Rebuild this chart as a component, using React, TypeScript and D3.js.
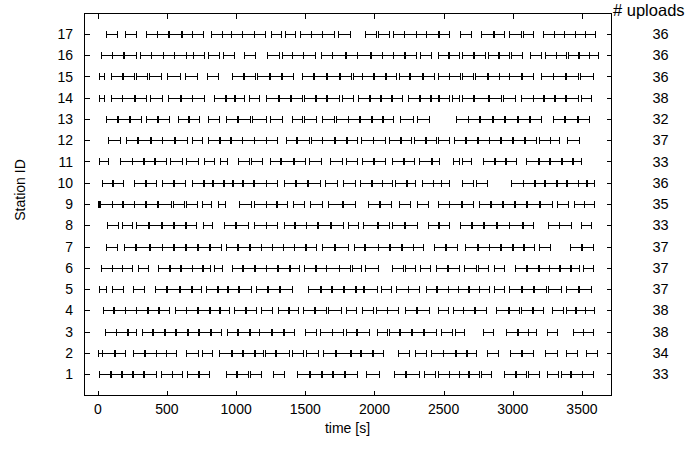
import React from "react";
import * as d3 from "d3";

// ---- data (seconds) ----
const station1 = [[12,85],[92,164],[172,249],[254,326],[333,418],[454,533],[538,611],[647,726],[731,804],[924,1001],[1009,1088],[1098,1178],[1267,1346],[1443,1527],[1532,1612],[1619,1696],[1701,1781],[1788,1877],[1938,2034],[2142,2222],[2227,2324],[2360,2439],[2456,2536],[2536,2613],[2613,2673],[2681,2758],[2770,2842],[2939,3018],[3023,3095],[3108,3192],[3245,3330],[3345,3413],[3419,3498],[3503,3582]];
const station2 = [[3,27],[32,116],[123,196],[254,333],[340,418],[422,490],[495,562],[640,726],[755,823],[876,960],[968,1045],[1050,1129],[1137,1195],[1205,1281],[1291,1383],[1402,1484],[1503,1595],[1629,1716],[1720,1822],[1829,1894],[1901,1981],[1986,2063],[2167,2251],[2295,2372],[2408,2492],[2497,2584],[2589,2661],[2666,2734],[2811,2890],[2980,3059],[3067,3144],[3236,3316],[3385,3462],[3530,3607]];
const station3 = [[51,128],[133,213],[220,278],[321,394],[398,478],[485,558],[562,647],[654,726],[731,808],[816,888],[936,1009],[1016,1093],[1098,1165],[1165,1250],[1257,1339],[1346,1420],[1498,1580],[1605,1691],[1696,1769],[1793,1870],[1877,1960],[2015,2094],[2102,2179],[2184,2263],[2270,2348],[2360,2444],[2480,2560],[2584,2650],[2787,2854],[2951,3028],[3035,3108],[3108,3168],[3245,3317],[3434,3510],[3510,3582]];
const station4 = [[36,109],[116,196],[200,273],[278,357],[365,437],[442,514],[558,635],[640,719],[726,804],[808,876],[881,948],[985,1064],[1069,1141],[1178,1257],[1305,1378],[1383,1450],[1484,1564],[1571,1648],[1667,1757],[1793,1865],[1909,1991],[2010,2087],[2094,2167],[2222,2299],[2311,2396],[2456,2529],[2565,2637],[2642,2722],[2729,2806],[2878,2963],[2970,3047],[3059,3139],[3148,3220],[3281,3366],[3385,3450],[3457,3523],[3523,3588]];
const station5 = [[7,61],[104,181],[254,333],[413,495],[502,586],[591,671],[678,743],[784,864],[871,936],[944,1016],[1021,1105],[1141,1226],[1233,1310],[1315,1402],[1523,1605],[1612,1684],[1691,1774],[1781,1860],[1865,1918],[1925,2015],[2046,2118],[2155,2239],[2246,2323],[2372,2444],[2449,2529],[2529,2601],[2601,2673],[2681,2753],[2758,2830],[2866,2939],[2975,3059],[3067,3149],[3156,3240],[3252,3349],[3385,3469],[3477,3566]];
const station6 = [[20,99],[104,176],[176,244],[292,365],[437,514],[519,591],[599,678],[683,755],[760,808],[840,895],[972,1045],[1050,1129],[1137,1214],[1214,1298],[1305,1383],[1387,1455],[1491,1571],[1576,1653],[1653,1740],[1744,1822],[1841,1901],[1933,2022],[2130,2203],[2222,2295],[2328,2401],[2444,2521],[2529,2608],[2649,2734],[2746,2818],[2866,2939],[3018,3095],[3100,3180],[3187,3260],[3264,3337],[3342,3414],[3421,3482],[3506,3578]];
const station7 = [[56,140],[188,268],[273,369],[374,461],[466,543],[550,630],[635,719],[726,804],[808,888],[924,1009],[1016,1093],[1098,1178],[1178,1257],[1257,1339],[1339,1419],[1419,1498],[1503,1580],[1624,1708],[1716,1805],[1853,1925],[1933,2022],[2029,2106],[2111,2191],[2198,2275],[2280,2352],[2432,2512],[2517,2594],[2656,2738],[2746,2825],[2830,2907],[2915,2994],[3004,3076],[3083,3156],[3192,3269],[3414,3494],[3501,3578]];
const station8 = [[68,147],[172,249],[278,365],[369,454],[461,543],[550,630],[635,707],[760,828],[912,992],[1001,1088],[1129,1214],[1214,1298],[1346,1419],[1426,1503],[1503,1588],[1595,1677],[1684,1773],[1805,1884],[1918,2015],[2022,2102],[2130,2215],[2222,2311],[2384,2456],[2463,2536],[2620,2698],[2705,2787],[2794,2878],[2883,2970],[2975,3067],[3071,3149],[3252,3332],[3337,3421],[3494,3566]];
const station9 = [[0,12],[16,99],[104,176],[181,261],[261,340],[345,430],[437,526],[543,623],[635,719],[751,816],[871,919],[1021,1105],[1129,1214],[1214,1291],[1298,1371],[1412,1491],[1535,1619],[1665,1764],[1773,1860],[1950,2034],[2039,2118],[2174,2256],[2311,2384],[2456,2536],[2541,2625],[2632,2710],[2753,2835],[2842,2922],[2931,3011],[3018,3095],[3100,3192],[3197,3284],[3317,3397],[3445,3518],[3518,3590]];
const station10 = [[27,104],[109,181],[261,340],[345,422],[461,543],[550,630],[683,760],[767,828],[833,905],[912,972],[977,1045],[1050,1122],[1129,1214],[1219,1298],[1346,1426],[1431,1515],[1523,1605],[1643,1732],[1773,1858],[1894,1974],[1981,2053],[2058,2126],[2150,2227],[2232,2295],[2343,2420],[2420,2480],[2480,2536],[2632,2710],[2734,2811],[2987,3071],[3076,3156],[3163,3228],[3235,3313],[3317,3385],[3390,3469],[3469,3530],[3535,3590]];
const station11 = [[12,75],[157,244],[249,326],[333,406],[413,490],[519,611],[640,726],[767,840],[881,936],[1016,1093],[1105,1190],[1243,1315],[1322,1412],[1419,1498],[1527,1612],[1677,1764],[1793,1877],[1909,1991],[1998,2077],[2126,2203],[2215,2287],[2323,2408],[2415,2468],[2565,2613],[2632,2698],[2787,2866],[2874,2946],[2951,3023],[3095,3180],[3187,3264],[3269,3349],[3356,3428],[3433,3494]];
const station12 = [[75,157],[205,285],[292,374],[381,461],[466,550],[558,647],[678,755],[799,876],[881,953],[960,1040],[1045,1129],[1129,1214],[1214,1298],[1358,1436],[1443,1527],[1539,1619],[1624,1708],[1716,1793],[1798,1877],[1901,1986],[1991,2077],[2102,2184],[2191,2263],[2287,2367],[2372,2444],[2456,2536],[2577,2656],[2661,2739],[2746,2825],[2830,2907],[2915,2994],[3004,3084],[3091,3168],[3192,3269],[3269,3332],[3390,3482]];
const station13 = [[61,140],[147,225],[229,309],[345,430],[437,514],[579,654],[659,731],[799,876],[929,1009],[1016,1098],[1117,1214],[1243,1330],[1402,1479],[1491,1576],[1624,1708],[1720,1805],[1812,1889],[1894,1974],[1981,2058],[2063,2135],[2184,2275],[2311,2391],[2589,2673],[2673,2758],[2763,2849],[2854,2939],[2946,3028],[3035,3120],[3124,3204],[3289,3373],[3380,3462],[3469,3554]];
const station14 = [[7,44],[92,172],[176,261],[268,345],[374,461],[509,591],[599,678],[683,767],[840,919],[924,985],[992,1057],[1093,1165],[1219,1305],[1310,1387],[1395,1479],[1491,1571],[1576,1653],[1660,1740],[1764,1846],[1884,1957],[1966,2039],[2046,2118],[2126,2198],[2239,2324],[2328,2401],[2408,2456],[2463,2536],[2560,2613],[2632,2710],[2722,2818],[2825,2915],[2927,3018],[3059,3144],[3144,3216],[3228,3301],[3308,3380],[3385,3469],[3494,3566]];
const station15 = [[7,46],[92,172],[181,261],[273,352],[369,454],[502,594],[630,719],[792,871],[972,1050],[1057,1137],[1153,1238],[1243,1322],[1330,1412],[1474,1556],[1564,1648],[1655,1745],[1749,1829],[1846,1909],[1913,1991],[1998,2077],[2082,2155],[2174,2251],[2256,2343],[2348,2432],[2456,2536],[2541,2618],[2632,2710],[2729,2811],[2818,2898],[2898,2970],[2975,3059],[3067,3144],[3204,3289],[3293,3380],[3385,3469],[3486,3578]];
const station16 = [[20,99],[104,181],[188,273],[302,381],[381,471],[471,550],[550,635],[635,688],[688,767],[796,876],[907,985],[1057,1137],[1226,1310],[1330,1407],[1407,1484],[1484,1571],[1612,1691],[1696,1788],[1793,1877],[1877,1969],[1974,2053],[2058,2131],[2135,2215],[2222,2299],[2328,2408],[2456,2529],[2536,2613],[2632,2710],[2722,2801],[2818,2890],[2898,2975],[2987,3067],[3124,3204],[3233,3313],[3313,3385],[3397,3469],[3482,3554],[3554,3614]];
const station17 = [[56,140],[193,273],[345,425],[425,507],[514,599],[611,683],[683,760],[816,895],[895,965],[965,1045],[1045,1129],[1129,1207],[1250,1322],[1351,1426],[1462,1544],[1544,1624],[1624,1708],[1737,1821],[1930,2014],[2029,2106],[2135,2215],[2215,2299],[2299,2376],[2376,2456],[2468,2536],[2620,2697],[2770,2854],[2866,2939],[2975,3059],[3071,3144],[3221,3296],[3296,3373],[3373,3450],[3450,3525],[3525,3597]];

const stations = [station1, station2, station3, station4, station5, station6, station7, station8, station9, station10, station11, station12, station13, station14, station15, station16, station17];
const stationIds = d3.range(1, 18);
const uploadCounts = [33, 34, 38, 38, 37, 37, 37, 33, 35, 36, 33, 37, 32, 38, 36, 36, 36];
const xTicks = [0, 500, 1000, 1500, 2000, 2500, 3000, 3500];

const W = 688;
const H = 450;
const FONT = "'Liberation Sans', Arial, Helvetica, sans-serif";

export default function App() {
  const x = d3.scaleLinear().domain([-100, 3710]).range([84, 611]);
  const y = d3.scaleLinear().domain([0, 18]).range([395.25, 12.75]);
  const [x0, x1] = x.range();
  const [yb, yt] = y.range();
  const px = (v: number) => Math.round(v) + 0.5;
  const tickLen = 5;
  const cap = 3.5;

  return (
    <svg
      width={W}
      height={H}
      style={{ position: "absolute", left: 0, top: 0, background: "#fff" }}
      fontFamily={FONT}
    >
      <rect x={0} y={0} width={W} height={H} fill="#fff" />
      {/* marks */}
      <g stroke="#000" strokeWidth={1} shapeRendering="crispEdges" fill="none">
        {stations.map((rows, i) => {
          const yy = px(y(stationIds[i]));
          return (
            <g key={i}>
              {rows.map(([s, e], j) => {
                const xs = px(x(s));
                const xe = px(x(e));
                return (
                  <g key={j}>
                    <line x1={xs} x2={xe} y1={yy} y2={yy} />
                    <line x1={xs} x2={xs} y1={yy - cap} y2={yy + cap} />
                    <line x1={xe} x2={xe} y1={yy - cap} y2={yy + cap} />
                  </g>
                );
              })}
            </g>
          );
        })}
      </g>
      {/* ticks */}
      <g stroke="#000" strokeWidth={1} shapeRendering="crispEdges">
        {xTicks.map((t) => (
          <g key={"xt" + t}>
            <line x1={px(x(t))} x2={px(x(t))} y1={px(yb)} y2={px(yb) - tickLen} />
            <line x1={px(x(t))} x2={px(x(t))} y1={px(yt)} y2={px(yt) + tickLen} />
          </g>
        ))}
        {stationIds.map((s) => (
          <g key={"yt" + s}>
            <line x1={px(x0)} x2={px(x0) + tickLen} y1={px(y(s))} y2={px(y(s))} />
            <line x1={px(x1)} x2={px(x1) - tickLen} y1={px(y(s))} y2={px(y(s))} />
          </g>
        ))}
      </g>
      {/* frame */}
      <rect
        x={px(x0)}
        y={px(yt)}
        width={Math.round(x1) - Math.round(x0)}
        height={Math.round(yb) - Math.round(yt)}
        fill="none"
        stroke="#000"
        strokeWidth={1}
        shapeRendering="crispEdges"
      />
      {/* x tick labels */}
      <g fontSize={14} textAnchor="middle" fill="#000">
        {xTicks.map((t) => (
          <text key={"xl" + t} x={x(t)} y={413.5}>
            {t}
          </text>
        ))}
      </g>
      {/* y tick labels */}
      <g fontSize={14} textAnchor="end" fill="#000">
        {stationIds.map((s) => (
          <text key={"yl" + s} x={73} y={y(s) + 5}>
            {s}
          </text>
        ))}
      </g>
      {/* upload counts */}
      <g fontSize={14.5} textAnchor="middle" fill="#000">
        {stationIds.map((s, i) => (
          <text key={"uc" + s} x={660.5} y={y(s) + 5}>
            {uploadCounts[i]}
          </text>
        ))}
      </g>
      <text x={613} y={16} fontSize={16.5} fill="#000">
        # uploads
      </text>
      <text x={(x0 + x1) / 2} y={432.5} fontSize={14} textAnchor="middle" fill="#000">
        time [s]
      </text>
      <text
        transform={`translate(25,${190}) rotate(-90)`}
        fontSize={14}
        textAnchor="middle"
        fill="#000"
      >
        Station ID
      </text>
    </svg>
  );
}
